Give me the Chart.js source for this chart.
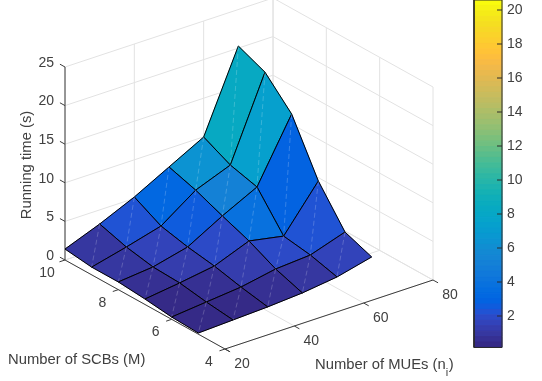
<!DOCTYPE html>
<html><head><meta charset="utf-8">
<style>html,body{margin:0;padding:0;background:#fff}canvas{display:block}</style>
<script src="https://cdn.jsdelivr.net/npm/chart.js@4"></script>
</head><body><canvas id="c" width="542" height="381"></canvas>
<script>
// ---- data ----
const nValues = [20,30,40,50,60,70];
const mValues = [5,6,7,8,9,10];
const timeM5  = [0.15,0.35,0.55,0.87,1.45,2.55];
const timeM6  = [0.30,0.75,1.20,2.05,2.37,3.86];
const timeM7  = [0.71,1.30,2.00,3.76,2.90,8.55];
const timeM8  = [1.00,1.45,2.55,5.08,7.34,15.3];
const timeM9  = [1.00,2.11,3.34,6.50,8.26,18.8];
const timeM10 = [1.42,3.17,5.18,7.58,9.97,20.27];
const nTicks = [20,40,60,80];
const mTicks = [4,6,8,10];
const zTicks = [0,5,10,15,20,25];
const cbTicks = [2,4,6,8,10,12,14,16,18,20];
const xTitle = 'Number of MUEs (n';
const xTitleSub = 'i';
const yTitle = 'Number of SCBs (M)';
const zTitle = 'Running time (s)';
const parula = [[.2081,.1663,.5292],[.2116,.1898,.5777],[.2123,.2138,.6270],[.2081,.2386,.6771],[.1959,.2645,.7279],[.1707,.2919,.7792],[.1253,.3242,.8303],[.0591,.3598,.8683],[.0117,.3875,.8820],[.0060,.4086,.8828],[.0165,.4266,.8786],[.0329,.4430,.8720],[.0498,.4586,.8641],[.0629,.4737,.8554],[.0723,.4887,.8467],[.0779,.5040,.8384],[.0793,.5200,.8312],[.0749,.5375,.8263],[.0641,.5570,.8240],[.0488,.5772,.8228],[.0343,.5966,.8199],[.0265,.6137,.8135],[.0239,.6287,.8038],[.0231,.6418,.7913],[.0228,.6535,.7768],[.0267,.6642,.7607],[.0384,.6743,.7436],[.0590,.6838,.7254],[.0843,.6928,.7062],[.1133,.7015,.6859],[.1453,.7098,.6646],[.1801,.7177,.6424],[.2178,.7250,.6193],[.2586,.7317,.5954],[.3022,.7376,.5712],[.3482,.7424,.5473],[.3953,.7459,.5244],[.4420,.7481,.5033],[.4871,.7491,.4840],[.5300,.7491,.4661],[.5709,.7485,.4494],[.6099,.7473,.4337],[.6473,.7456,.4188],[.6834,.7435,.4044],[.7184,.7411,.3905],[.7525,.7384,.3768],[.7858,.7356,.3633],[.8185,.7327,.3498],[.8507,.7299,.3360],[.8824,.7274,.3217],[.9139,.7258,.3063],[.9450,.7261,.2886],[.9739,.7314,.2666],[.9938,.7455,.2403],[.9990,.7653,.2164],[.9955,.7861,.1967],[.9880,.8066,.1794],[.9789,.8271,.1633],[.9697,.8481,.1475],[.9626,.8705,.1309],[.9589,.8949,.1132],[.9598,.9218,.0948],[.9661,.9514,.0755],[.9763,.9831,.0538]];

// ---- orthographic view of the 3-D axes ----
const project = (n, m, z) => ({
  x: 65 + (n-20)*208/60 + (10-m)*160/6,
  y: 260 - (n-20)*69/60 + (10-m)*89/6 - z*193/25
});
const timeRows = [timeM5,timeM6,timeM7,timeM8,timeM9,timeM10];
const cLo = 0.15, cHi = 20.59;
const toRGB = c => `rgb(${c.map(v=>Math.round(v*255)).join(',')})`;
const colorOf = z => toRGB(parula[Math.min(63,Math.floor((z-cLo)/(cHi-cLo)*64))]);
const TEXT = '#404040', AXIS = '#3c3c3c', GRID = '#e2e2e2';

const line = (data,color,extra={}) => Object.assign({type:'scatter',data,showLine:true,borderColor:color,borderWidth:1,
  pointRadius:0,pointHoverRadius:0,tension:0,fill:false,clip:false},extra);

const surface = [];
for (let i=0;i<nValues.length-1;i++) for (let j=0;j<mValues.length-1;j++) {
  const v = (a,b)=>project(nValues[a],mValues[b],timeRows[b][a]);
  surface.push(line([v(i+1,j+1),v(i,j)],'rgba(255,255,255,0.2)',{borderDash:[5,3]}));
  surface.push(line([v(i,j),v(i+1,j),v(i+1,j+1),v(i,j+1),v(i,j)],'#000',{polygonFill:colorOf(timeRows[j][i]),borderWidth:1}));
}

const nA=nTicks[0], nB=nTicks[nTicks.length-1], mA=mTicks[0], mB=mTicks[mTicks.length-1], zB=zTicks[zTicks.length-1];
const axes = [
  line([project(nA,mB,0),project(nA,mB,zB)],AXIS),
  line([project(nA,mB,0),project(nA,mA-0.19,0)],AXIS),
  line([project(nA,mA,0),project(nB,mA,0)],AXIS),
];
const TM=0.19, TN=1.6; // tick lengths in data units
for (const z of zTicks) axes.push(line([project(nA,mB,z),project(nA,mB+TM,z)],AXIS));
for (const m of mTicks) axes.push(line([project(nA,m,0),project(nA-TN,m,0)],AXIS));
for (const n of nTicks) axes.push(line([project(n,mA,0),project(n,mA-TM,0)],AXIS));

const grid = [];
for (const n of nTicks) {
  grid.push(line([project(n,mA,0),project(n,mB,0),project(n,mB,zB)],GRID));
}
for (const m of mTicks) {
  grid.push(line([project(nA,m,0),project(nB,m,0),project(nB,m,zB)],GRID));
}
for (const z of zTicks) {
  grid.push(line([project(nA,mB,z),project(nB,mB,z),project(nB,mA,z)],GRID));
}

// ---- colour bar, drawn on its own value scale ----
const CB_L=474, CB_R=502;
const cbar=[];
cbar.push(line([{x:CB_L,y:cLo},{x:CB_R,y:cLo},{x:CB_R,y:cHi},{x:CB_L,y:cHi},{x:CB_L,y:cLo}],'#2a2a2a',{yAxisID:'cb'}));
for (const t of cbTicks) cbar.push(line([{x:CB_R-5,y:t},{x:CB_R,y:t}],'#2a2a2a',{yAxisID:'cb'}));
parula.forEach((c,k)=>{
  const lo=cLo+(cHi-cLo)*k/64, hi=cLo+(cHi-cLo)*(k+1)/64, col=toRGB(c);
  cbar.push(line([{x:CB_L,y:lo},{x:CB_R,y:lo},{x:CB_R,y:hi},{x:CB_L,y:hi},{x:CB_L,y:lo}],'rgba(0,0,0,0)',{yAxisID:'cb',polygonFill:col,polygonEdge:1}));
});

const polygonFill = {
  id:'polygonFill',
  beforeDatasetDraw(chart,args){
    const ds=chart.data.datasets[args.index];
    if(!ds.polygonFill) return;
    const pts=args.meta.data, ctx=chart.ctx;
    ctx.save(); ctx.beginPath();
    pts.forEach((p,i)=> i?ctx.lineTo(p.x,p.y):ctx.moveTo(p.x,p.y));
    ctx.closePath(); ctx.fillStyle=ds.polygonFill;
    ctx.fill();
    ctx.strokeStyle=ds.polygonFill; ctx.lineWidth=ds.polygonEdge||0.6; ctx.stroke();
    ctx.restore();
  }
};
const axisText = {
  id:'axisText',
  afterDraw(chart){
    const ctx=chart.ctx, X=chart.scales.x, Y=chart.scales.y;
    const px=p=>({x:X.getPixelForValue(p.x),y:Y.getPixelForValue(p.y)});
    ctx.save();
    ctx.fillStyle=TEXT; ctx.font='14px "Liberation Sans"'; ctx.textBaseline='middle';
    ctx.textAlign='right';
    for(const z of zTicks){const p=px(project(nA,mB,z)); ctx.fillText(String(z),p.x-11,p.y-4);}
    ctx.textAlign='center';
    for(const m of mTicks){const p=px(project(nA,m,0)); ctx.fillText(String(m),p.x-(m===10?18:16),p.y+13);}
    for(const n of nTicks){const p=px(project(n,mA,0)); ctx.fillText(String(n),p.x+17,p.y+15);}
    const F='14.8px "Liberation Sans"';
    ctx.font=F;
    ctx.textAlign='left';
    ctx.fillText(yTitle,8,360);
    ctx.fillText(xTitle,315,365);
    let w=ctx.measureText(xTitle).width;
    ctx.font='11px "Liberation Sans"';
    ctx.fillText(xTitleSub,315+w,373);
    const w2=ctx.measureText(xTitleSub).width;
    ctx.font=F;
    ctx.fillText(')',315+w+w2+0.5,365);
    ctx.translate(27,165); ctx.rotate(-Math.PI/2); ctx.textAlign='center';
    ctx.fillText(zTitle,0,0);
    ctx.restore();
  }
};

const PX_PER_UNIT=17;
new Chart(document.getElementById('c'),{
  type:'scatter',
  data:{datasets:[...surface,...axes,...grid,...cbar]},
  plugins:[polygonFill,axisText],
  options:{
    responsive:false,animation:false,events:[],
    layout:{padding:0},
    plugins:{legend:{display:false},tooltip:{enabled:false},title:{display:false}},
    scales:{
      x:{type:'linear',display:false,min:0,max:502},
      y:{type:'linear',display:false,min:0,max:381,reverse:true},
      cb:{type:'linear',axis:'y',position:'right',min:20-(381-10)/PX_PER_UNIT,max:20+10/PX_PER_UNIT,
        afterBuildTicks(s){s.ticks=cbTicks.map(value=>({value}));},
        afterFit(s){s.width=40;s.paddingTop=0;s.paddingBottom=0;},
        grid:{display:false,drawTicks:false},border:{display:false},
        ticks:{color:TEXT,font:{family:'"Liberation Sans"',size:14},padding:5,autoSkip:false,maxRotation:0,callback:v=>String(v)}
      }
    }
  }
});
</script></body></html>
